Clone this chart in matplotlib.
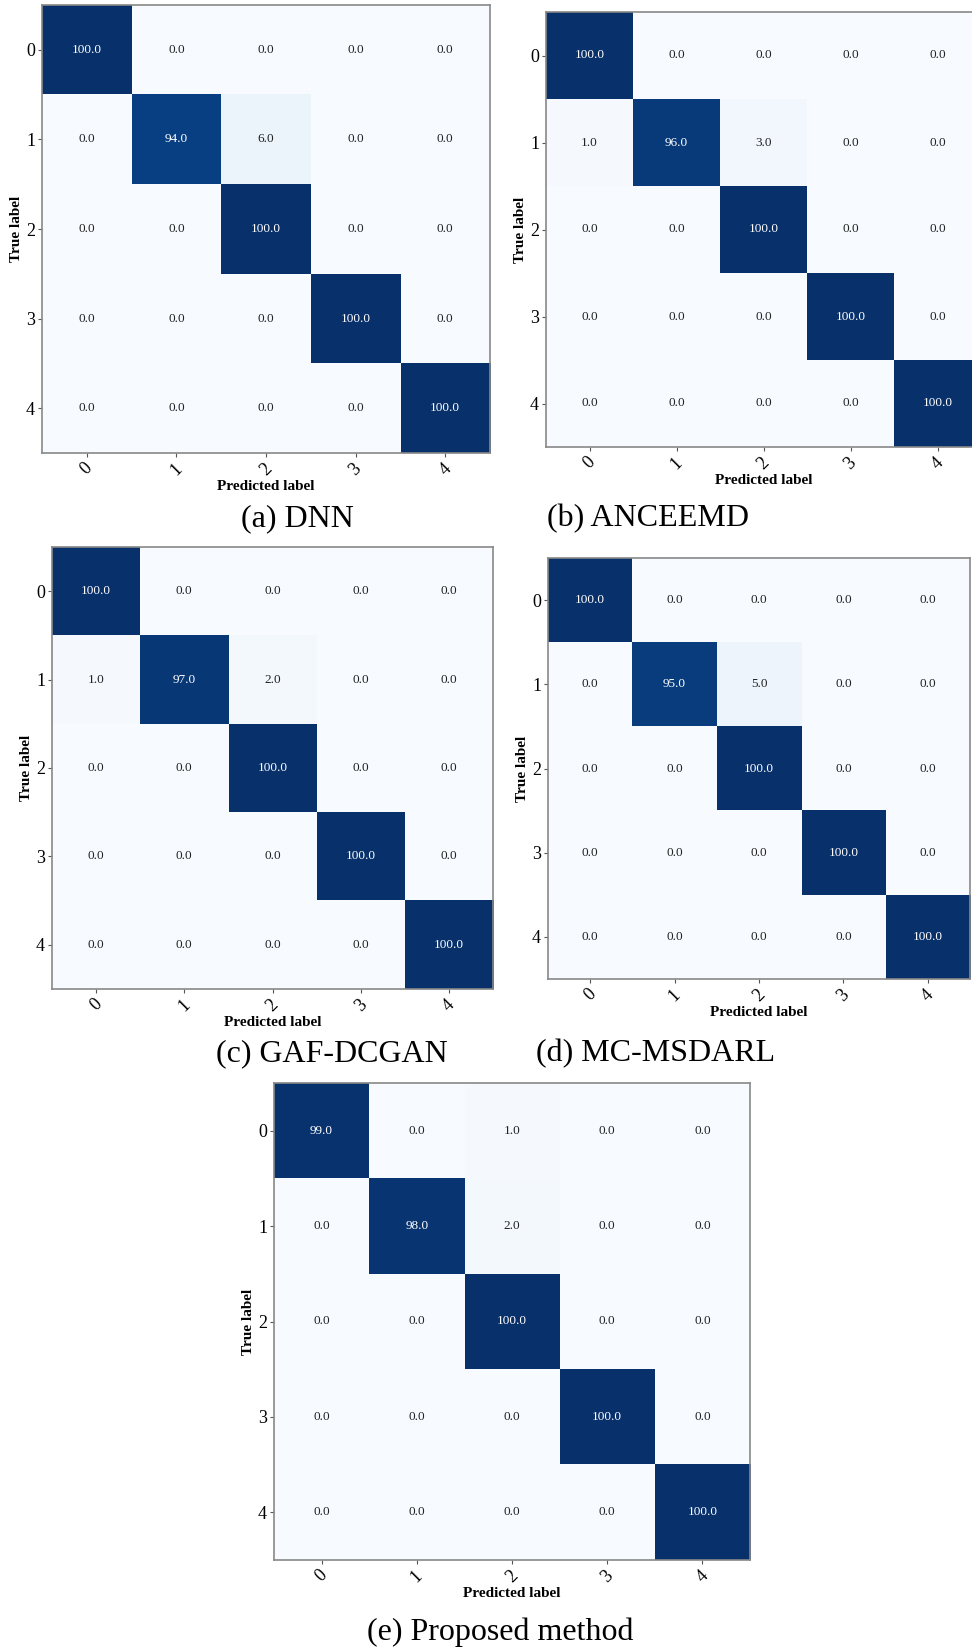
import numpy as np
import matplotlib.pyplot as plt

plt.rcParams['font.family'] = ['Liberation Serif', 'DejaVu Serif']

classes = ['0', '1', '2', '3', '4']

cm_dnn = [[100.0, 0.0, 0.0, 0.0, 0.0],
          [0.0, 94.0, 6.0, 0.0, 0.0],
          [0.0, 0.0, 100.0, 0.0, 0.0],
          [0.0, 0.0, 0.0, 100.0, 0.0],
          [0.0, 0.0, 0.0, 0.0, 100.0]]

cm_anceemd = [[100.0, 0.0, 0.0, 0.0, 0.0],
              [1.0, 96.0, 3.0, 0.0, 0.0],
              [0.0, 0.0, 100.0, 0.0, 0.0],
              [0.0, 0.0, 0.0, 100.0, 0.0],
              [0.0, 0.0, 0.0, 0.0, 100.0]]

cm_gaf = [[100.0, 0.0, 0.0, 0.0, 0.0],
          [1.0, 97.0, 2.0, 0.0, 0.0],
          [0.0, 0.0, 100.0, 0.0, 0.0],
          [0.0, 0.0, 0.0, 100.0, 0.0],
          [0.0, 0.0, 0.0, 0.0, 100.0]]

cm_mc = [[100.0, 0.0, 0.0, 0.0, 0.0],
         [0.0, 95.0, 5.0, 0.0, 0.0],
         [0.0, 0.0, 100.0, 0.0, 0.0],
         [0.0, 0.0, 0.0, 100.0, 0.0],
         [0.0, 0.0, 0.0, 0.0, 100.0]]

cm_proposed = [[99.0, 0.0, 1.0, 0.0, 0.0],
               [0.0, 98.0, 2.0, 0.0, 0.0],
               [0.0, 0.0, 100.0, 0.0, 0.0],
               [0.0, 0.0, 0.0, 100.0, 0.0],
               [0.0, 0.0, 0.0, 0.0, 100.0]]

captions = ['(a) DNN', '(b) ANCEEMD', '(c) GAF-DCGAN', '(d) MC-MSDARL', '(e) Proposed method']

W, H = 972, 1648
fig = plt.figure(figsize=(W / 100, H / 100), dpi=100)


def px_axes(left, top, width, height):
    return fig.add_axes([left / W, (H - top - height) / H, width / W, height / H])


def plot_cm(ax, cm):
    cm = np.array(cm)
    ax.imshow(cm, cmap='Blues', vmin=0, vmax=100, aspect='auto',
              interpolation='nearest')
    ticks = np.arange(len(classes))
    ax.set_xticks(ticks)
    ax.set_xticklabels(classes, rotation=45, fontsize=13)
    ax.set_yticks(ticks)
    ax.set_yticklabels(classes, fontsize=13)
    thresh = cm.max() / 2.
    for i in range(cm.shape[0]):
        for j in range(cm.shape[1]):
            ax.text(j, i, format(cm[i, j], '.1f'), ha='center', va='center',
                    fontsize=9.5,
                    color='white' if cm[i, j] > thresh else '#222222')
    ax.set_ylabel('True label', fontsize=11, fontweight='bold', labelpad=2)
    ax.set_xlabel('Predicted label', fontsize=11, fontweight='bold', labelpad=1)
    ax.tick_params(length=3, color='#555555', pad=2)
    for s in ax.spines.values():
        s.set_color('#888888')
        s.set_linewidth(1.2)


# axes boxes in pixels: left, top, width, height
layout = [(42, 5, 448, 448), (546, 12, 435, 435), (52, 547, 441, 442),
          (548, 558, 422, 421), (274, 1083, 476, 477)]
matrices = [cm_dnn, cm_anceemd, cm_gaf, cm_mc, cm_proposed]
cap_pos = [(297, 519), (648, 519), (332, 1054), (656, 1054), (500, 1632)]

for (l, t, w, h), cm, cap, (cx, cy) in zip(layout, matrices, captions, cap_pos):
    ax = px_axes(l, t, w, h)
    plot_cm(ax, cm)
    fig.text(cx / W, 1 - cy / H, cap, ha='center', va='center', fontsize=23)

fig.savefig('out.png', dpi=100)
